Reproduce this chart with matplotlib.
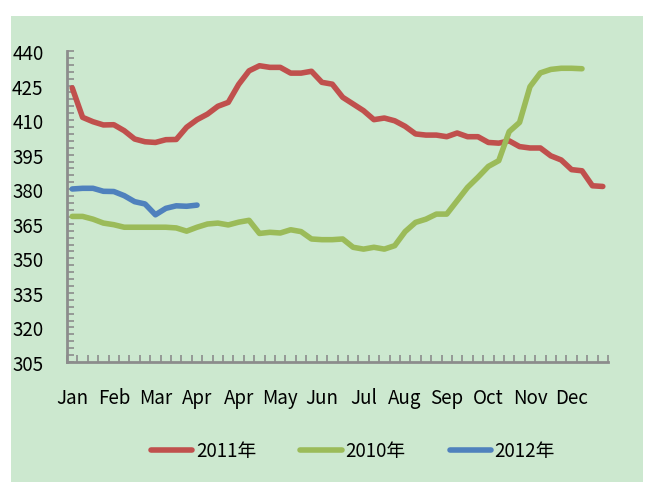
import matplotlib
matplotlib.use('Agg')
import matplotlib.pyplot as plt
from matplotlib.patches import Rectangle
import numpy as np

# weekly prices
y2011 = [424, 411.2, 409.3, 407.9, 408, 405.4, 401.8, 400.6, 400.3, 401.5,
         401.6, 406.9, 410.2, 412.6, 416, 417.7, 425.5, 431.4, 433.6, 432.9,
         432.9, 430.4, 430.4, 431.2, 426.4, 425.6, 419.9, 417, 414.1, 410.2,
         410.9, 409.7, 407.3, 404, 403.5, 403.5, 402.8, 404.4, 402.8, 402.8,
         400.3, 400, 401, 398.5, 397.9, 397.9, 394.5, 392.7, 388.5, 388,
         381.5, 381.2]
y2010 = [368.2, 368.2, 367, 365.3, 364.6, 363.5, 363.5, 363.5, 363.5, 363.5,
         363.2, 361.8, 363.5, 364.9, 365.3, 364.5, 365.7, 366.5, 360.8, 361.3,
         361, 362.4, 361.6, 358.4, 358.1, 358.1, 358.4, 354.8, 354, 354.8,
         354, 355.5, 361.6, 365.6, 367, 369.2, 369.2, 375, 380.8, 385.2,
         389.9, 392.4, 405, 409, 424.5, 430.5, 432, 432.5, 432.5, 432.3]
y2012 = [380.1, 380.4, 380.4, 379.1, 379, 377.2, 374.6, 373.6, 368.9, 371.7,
         372.8, 372.6, 373.1]

month_labels = ['Jan', 'Feb', 'Mar', 'Apr', 'Apr', 'May', 'Jun', 'Jul',
                'Aug', 'Sep', 'Oct', 'Nov', 'Dec']
series_names = ['2011年', '2010年', '2012年']
colors = ['#C0504D', '#9BBB59', '#4F81BD']

plt.rcParams['font.family'] = ['Noto Sans CJK SC', 'DejaVu Sans']

W, H = 652, 489
fig = plt.figure(figsize=(W / 100, H / 100), dpi=100)
fig.patch.set_facecolor('white')

# light green panel behind everything
fig.patches.append(Rectangle((11 / W, 1 - 483 / H), (643 - 11) / W, (483 - 17) / H,
                             transform=fig.transFigure, facecolor='#CCE8CF',
                             edgecolor='none', zorder=-5))

ax = fig.add_axes([67 / W, 1 - 363 / H, (608 - 67) / W, (363 - 52) / H])
ax.set_facecolor('none')
ax.set_zorder(2)

for data, name, c in zip([y2011, y2010, y2012], series_names, colors):
    ax.plot(np.arange(len(data)), data, color=c, lw=4, label=name,
            solid_capstyle='round', solid_joinstyle='round')

ax.set_xlim(-0.5, 51.5)
ax.set_ylim(305, 440)

# y axis: majors every 15, minors every 3
ax.set_yticks(np.arange(305, 441, 15))
ax.set_yticks(np.arange(305, 441, 3), minor=True)
ax.tick_params(axis='y', which='both', direction='in', length=5, width=1.2,
               color='#8C8C8C', labelsize=13.5, pad=17)

# x axis: ticks between weeks, labels every 4 weeks
ax.set_xticks(np.arange(-0.5, 52, 1), minor=True)
ax.set_xticks(np.arange(0, 52, 4))
ax.set_xticklabels(month_labels)
ax.tick_params(axis='x', which='major', length=0, labelsize=13.5, pad=18)
ax.tick_params(axis='x', which='minor', direction='in', length=5, width=1.2,
               color='#8C8C8C')

for s in ['top', 'right']:
    ax.spines[s].set_visible(False)
for s in ['left', 'bottom']:
    ax.spines[s].set_color('#8C8C8C')
    ax.spines[s].set_linewidth(2)

fig.legend(loc='center', bbox_to_anchor=(353 / W, 1 - 452 / H), ncol=3,
           frameon=False, fontsize=13.5, handlelength=2.2, handletextpad=0.2,
           columnspacing=2.35)

fig.savefig('out.png', dpi=100)
